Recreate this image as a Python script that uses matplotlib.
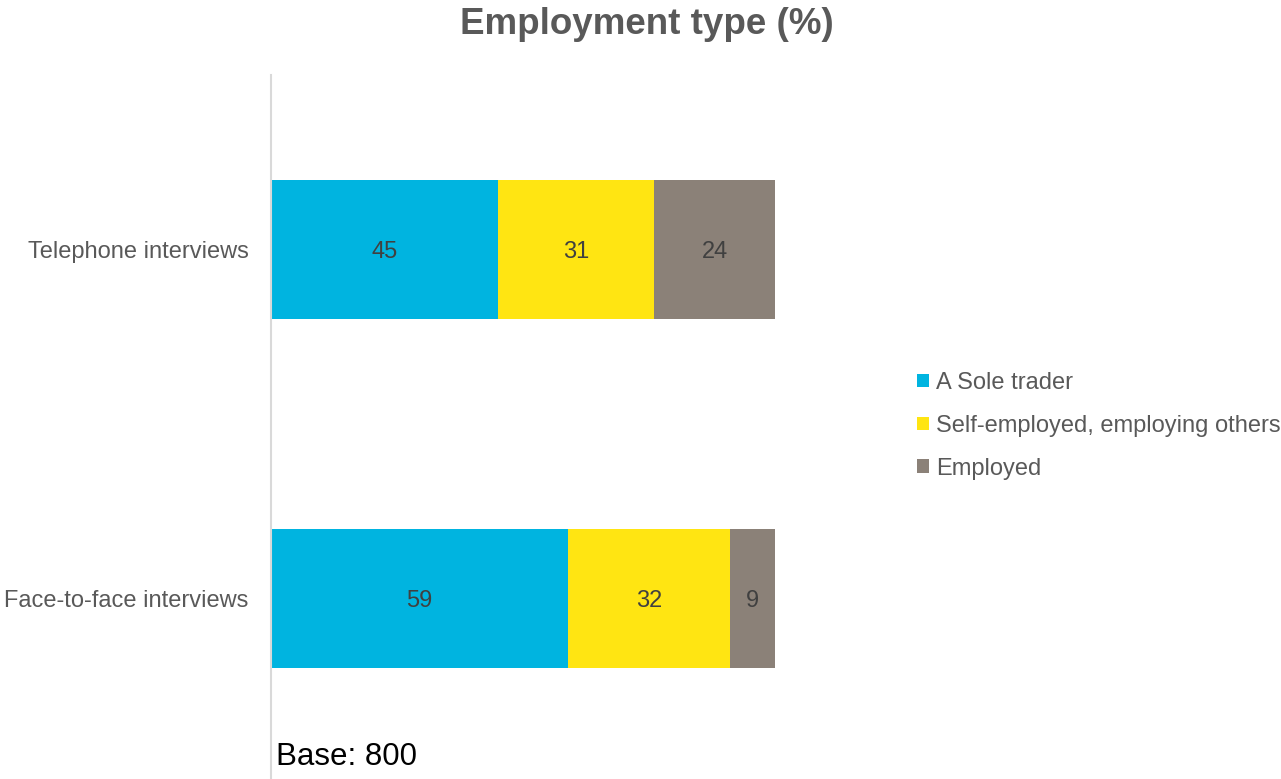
import numpy as np
import matplotlib.pyplot as plt
from matplotlib.patches import Patch

plt.rcParams["font.family"] = ["Liberation Sans", "DejaVu Sans"]

# ── Data ──────────────────────────────────────────────────────────────────────
groups = ["Telephone interviews", "Face-to-face interviews"]
series = ["A Sole trader", "Self-employed, employing others", "Employed"]
sole_trader = [45, 59]
self_employed = [31, 32]
employed = [24, 9]
colors = ["#00B4E0", "#FFE512", "#8B8178"]

values = np.array([sole_trader, self_employed, employed])

# ── Figure ────────────────────────────────────────────────────────────────────
W, H = 1281, 779
fig = plt.figure(figsize=(W / 100, H / 100), dpi=100)
ax = fig.add_axes([271 / W, 0, (775 - 271) / W, (779 - 75) / H])

ys = np.arange(len(groups))
left = np.zeros(len(groups))
for vals, name, color in zip(values, series, colors):
    bars = ax.barh(ys, vals, left=left, height=0.4, color=color, label=name)
    for b, v in zip(bars, vals):
        ax.text(b.get_x() + b.get_width() / 2, b.get_y() + b.get_height() / 2,
                f"{v:g}", ha="center", va="center_baseline", fontsize=17,
                color="#404040")
    left += vals

ax.set_xlim(0, 100)
ax.set_ylim(1 + 180.5 / 349, -174.5 / 349)
ax.set_yticks(ys)
ax.set_yticklabels(groups, fontsize=17, color="#595959")
ax.tick_params(axis="y", length=0, pad=16)
ax.set_xticks([])
for side in ["top", "right", "bottom"]:
    ax.spines[side].set_visible(False)
ax.spines["left"].set_color("#D9D9D9")
ax.spines["left"].set_linewidth(1.5)

fig.text(647 / W, 1 - 24 / H, "Employment type (%)", ha="center", va="center",
         fontsize=26.5, fontweight="bold", color="#595959")
fig.text(276 / W, 1 - 757 / H, "Base: 800", ha="left", va="center",
         fontsize=22.5, color="black")

handles = [Patch(facecolor=c, edgecolor="none") for c in colors]
fig.legend(handles, series, loc="upper left", bbox_to_anchor=(917 / W, 1 - 372 / H),
           frameon=False, fontsize=17, labelcolor="#595959",
           handlelength=0.5, handleheight=0.5, handletextpad=0.3,
           labelspacing=0.88, borderpad=0, borderaxespad=0)

fig.savefig("out.png", dpi=100)
